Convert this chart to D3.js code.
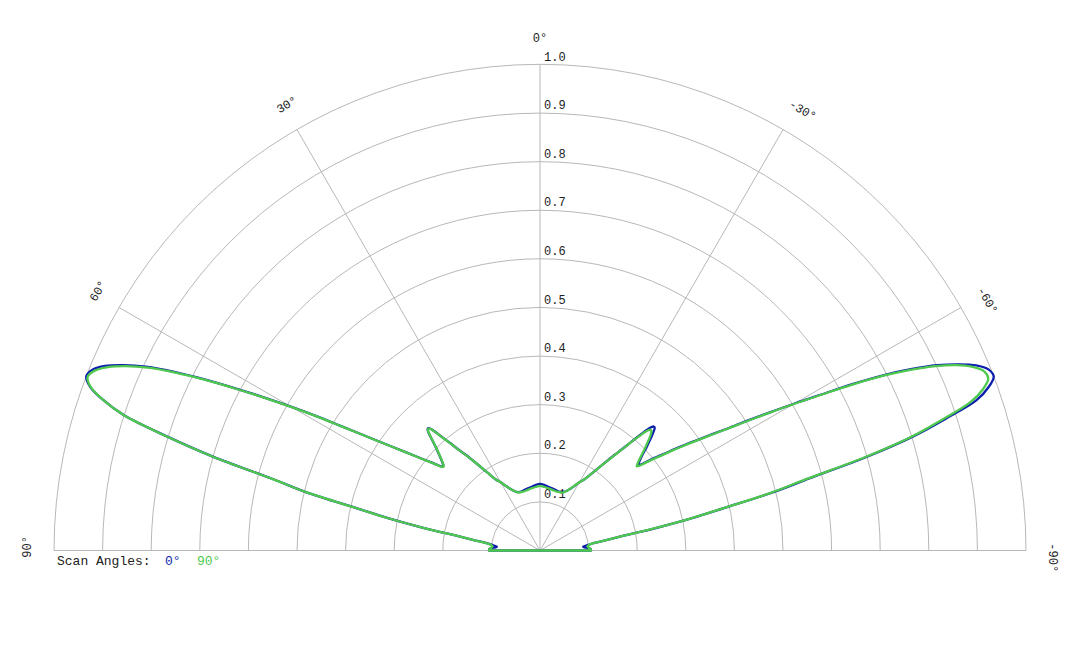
<!DOCTYPE html>
<html>
<head>
<meta charset="utf-8">
<script src="https://cdn.jsdelivr.net/npm/d3@7"></script>
<style>
  body { margin: 0; background: #fff; }
  #chart-container { width: 1080px; height: 648px; }
  text { font-family: "Liberation Mono", "DejaVu Sans Mono", monospace; font-size: 12px; }
</style>
</head>
<body>
<div id="chart-container"></div>
<script>
// Elevation angle of each sample, degrees (positive = left of broadside)
const angles = [
  -90, -88, -87, -86, -85, -84, -83, -82, -81, -80,
  -79, -78, -77, -76, -75, -74, -73, -72, -71, -70,
  -69, -68, -67, -66, -65, -64, -63, -62, -61, -60,
  -59, -58, -57, -56, -55, -54, -53, -52, -51, -50,
  -49.5, -49, -48.5, -48, -47, -46, -45, -44, -43.5, -43,
  -42.5, -42, -41.5, -41, -40, -39, -38, -36, -34, -32,
  -30, -28, -26, -24, -22, -20, -16, -12, -8, -4,
  0, 4, 8, 12, 16, 20, 22, 24, 26, 28,
  30, 32, 34, 36, 38, 39, 40, 41, 41.5, 42,
  42.5, 43, 43.5, 44, 45, 46, 47, 48, 48.5, 49,
  49.5, 50, 51, 52, 53, 54, 55, 56, 57, 58,
  59, 60, 61, 62, 63, 64, 65, 66, 67, 68,
  69, 70, 71, 72, 73, 74, 75, 76, 77, 78,
  79, 80, 81, 82, 83, 84, 85, 86, 87, 88,
  90
];

// Normalised pattern, scan angle 0°
const scan0 = [
  0.105, 0.104, 0.099, 0.092, 0.089, 0.094, 0.103, 0.115, 0.140, 0.175,
  0.245, 0.320, 0.390, 0.492, 0.575, 0.700, 0.803, 0.878, 0.950, 0.982,
  1.000, 0.995, 0.975, 0.942, 0.902, 0.852, 0.795, 0.730, 0.662, 0.605,
  0.552, 0.505, 0.462, 0.428, 0.398, 0.372, 0.347, 0.322, 0.303, 0.281,
  0.272, 0.268, 0.271, 0.276, 0.288, 0.304, 0.319, 0.334, 0.341, 0.346,
  0.346, 0.341, 0.331, 0.317, 0.291, 0.268, 0.250, 0.218, 0.192, 0.173,
  0.162, 0.150, 0.141, 0.134, 0.130, 0.128, 0.128, 0.130, 0.132, 0.135,
  0.137, 0.135, 0.132, 0.130, 0.128, 0.128, 0.130, 0.135, 0.142, 0.151,
  0.162, 0.173, 0.193, 0.220, 0.252, 0.268, 0.290, 0.313, 0.327, 0.337,
  0.341, 0.339, 0.332, 0.323, 0.306, 0.292, 0.280, 0.270, 0.266, 0.264,
  0.266, 0.272, 0.288, 0.305, 0.325, 0.348, 0.373, 0.404, 0.440, 0.484,
  0.537, 0.592, 0.650, 0.712, 0.777, 0.840, 0.895, 0.938, 0.972, 0.993,
  1.000, 0.985, 0.950, 0.900, 0.803, 0.699, 0.572, 0.495, 0.388, 0.318,
  0.245, 0.175, 0.138, 0.113, 0.102, 0.094, 0.089, 0.092, 0.099, 0.104,
  0.105
];

// Normalised pattern, scan angle 90°
const scan90 = [
  0.105, 0.104, 0.101, 0.099, 0.098, 0.100, 0.104, 0.115, 0.140, 0.175,
  0.243, 0.318, 0.388, 0.488, 0.567, 0.694, 0.797, 0.868, 0.936, 0.970,
  0.988, 0.985, 0.967, 0.938, 0.898, 0.848, 0.791, 0.726, 0.660, 0.603,
  0.550, 0.503, 0.460, 0.426, 0.396, 0.368, 0.343, 0.318, 0.298, 0.277,
  0.268, 0.264, 0.267, 0.272, 0.284, 0.298, 0.312, 0.326, 0.332, 0.336,
  0.337, 0.333, 0.325, 0.313, 0.290, 0.267, 0.249, 0.217, 0.192, 0.173,
  0.162, 0.151, 0.141, 0.134, 0.129, 0.127, 0.126, 0.127, 0.129, 0.131,
  0.133, 0.131, 0.129, 0.127, 0.126, 0.127, 0.130, 0.135, 0.142, 0.151,
  0.162, 0.173, 0.193, 0.220, 0.251, 0.267, 0.289, 0.312, 0.326, 0.336,
  0.340, 0.338, 0.331, 0.322, 0.305, 0.291, 0.279, 0.269, 0.265, 0.263,
  0.265, 0.271, 0.287, 0.304, 0.324, 0.347, 0.372, 0.403, 0.439, 0.483,
  0.535, 0.590, 0.648, 0.709, 0.773, 0.835, 0.890, 0.933, 0.966, 0.988,
  0.997, 0.984, 0.950, 0.900, 0.804, 0.700, 0.573, 0.496, 0.389, 0.319,
  0.245, 0.175, 0.138, 0.114, 0.104, 0.100, 0.098, 0.099, 0.101, 0.104,
  0.105
];

const radialTicks = [0.1, 0.2, 0.3, 0.4, 0.5, 0.6, 0.7, 0.8, 0.9, 1.0];
const spokeAngles = [60, 30, 0, -30, -60];
const angleLabels = [90, 60, 30, 0, -30, -60, -90];

const series = [
  { name: "0°", values: scan0, color: "#0d1fad" },
  { name: "90°", values: scan90, color: "#4ec94e" }
];

const width = 1080;
const height = 648;
const cx = 540;
const cy = 550.5;
const radius = 486;

const svg = d3.select("#chart-container")
  .append("svg")
  .attr("width", width)
  .attr("height", height);

const r = d3.scaleLinear().domain([0, 1]).range([0, radius]);
// positive angles to the left, 0 straight up
const a = d3.scaleLinear().domain([-90, 90]).range([Math.PI / 2, -Math.PI / 2]);

const g = svg.append("g").attr("transform", `translate(${cx},${cy})`);

// rings
g.selectAll("path.ring")
  .data(radialTicks)
  .enter()
  .append("path")
  .attr("class", "ring")
  .attr("d", (d) => {
    const p = d3.path();
    p.arc(0, 0, r(d), Math.PI, 2 * Math.PI);
    return p.toString();
  })
  .attr("fill", "none")
  .attr("stroke", "#b8b8b8")
  .attr("stroke-width", 1);

// baseline
g.append("line")
  .attr("x1", -radius).attr("x2", radius)
  .attr("y1", 0).attr("y2", 0)
  .attr("stroke", "#b8b8b8");

// spokes
g.selectAll("line.spoke")
  .data(spokeAngles)
  .enter()
  .append("line")
  .attr("class", "spoke")
  .attr("x1", 0).attr("y1", 0)
  .attr("x2", (d) => radius * Math.sin(a(d)))
  .attr("y2", (d) => -radius * Math.cos(a(d)))
  .attr("stroke", "#b8b8b8");

// radial labels
g.selectAll("text.rlab")
  .data(radialTicks)
  .enter()
  .append("text")
  .attr("class", "rlab")
  .attr("x", 4)
  .attr("y", (d) => -r(d) - 4)
  .attr("fill", "#222")
  .text((d) => d.toFixed(1));

// angle labels
const labelR = 513;
g.selectAll("text.alab")
  .data(angleLabels)
  .enter()
  .append("text")
  .attr("class", "alab")
  .attr("transform", (d) =>
    `translate(${labelR * Math.sin(a(d))},${-labelR * Math.cos(a(d))}) rotate(${-d})`)
  .attr("text-anchor", "start")
  .attr("dx", "-0.6em")
  .attr("dy", "0.35em")
  .attr("fill", "#222")
  .text((d) => d + "°");

// pattern curves
const line = d3.lineRadial()
  .angle((d) => a(d[0]))
  .radius((d) => r(d[1]))
  .curve(d3.curveCatmullRom.alpha(0.5));

series.forEach((s) => {
  const pts = angles.map((ang, i) => [ang, s.values[i]]);
  g.append("path")
    .attr("d", line(pts) + "Z")
    .attr("fill", "none")
    .attr("stroke", s.color)
    .attr("stroke-width", 2.3)
    .attr("stroke-linejoin", "round");
});

// legend
const legend = svg.append("text")
  .attr("x", 57)
  .attr("y", 565)
  .attr("fill", "#222")
  .style("font-size", "13px");
legend.append("tspan").text("Scan Angles:");
legend.append("tspan").attr("x", 165).attr("fill", series[0].color).text(series[0].name);
legend.append("tspan").attr("x", 197).attr("fill", series[1].color).text(series[1].name);
</script>
</body>
</html>
